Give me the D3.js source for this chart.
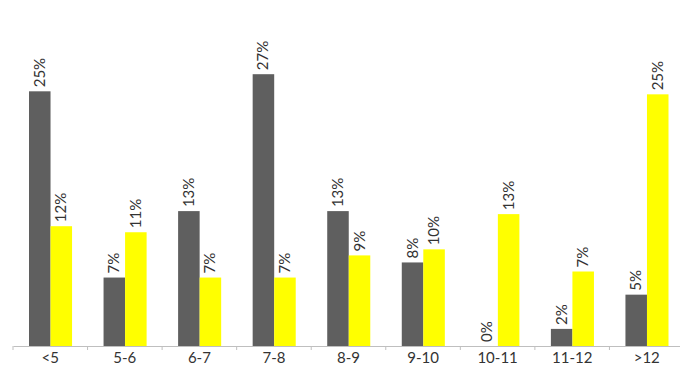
<!DOCTYPE html>
<html>
<head>
<meta charset="utf-8">
<script src="https://cdn.jsdelivr.net/npm/d3@7"></script>
<style>
  body { margin: 0; background: #fff; }
  svg text { font-family: Lato, "DejaVu Sans", sans-serif; fill: #333; }
</style>
</head>
<body>
<div id="chart"></div>
<script>
'use strict';

const categories = ['<5', '5-6', '6-7', '7-8', '8-9', '9-10', '10-11', '11-12', '>12'];
const series_dark = [25.3, 6.8, 13.4, 27.0, 13.4, 8.3, 0, 1.7, 5.1];
const series_yellow = [11.9, 11.3, 6.8, 6.8, 9.0, 9.6, 13.1, 7.4, 25.0];
const series_colors = ['#5f5f5f', '#ffff00'];

function grouped_bars(id) {
    let dim = {
        width: 680,
        height: 367,
        left: 13,
        right: -4,
        base: 346,
        top: 44
    };

    let svg = d3.select(id)
        .append('svg')
        .attr('width', dim.width)
        .attr('height', dim.height);

    const xScale = d3.scaleBand()
        .range([dim.left, dim.width - dim.right])
        .domain(categories)
        .paddingInner(0)
        .paddingOuter(0);

    const inner = d3.scaleBand()
        .domain([0, 1])
        .range([16, xScale.bandwidth() - 15.5]);

    const yScale = d3.scaleLinear()
        .domain([0, 30])
        .range([dim.base, dim.top]);

    let axis = svg.append('g')
        .attr('transform', `translate(0, ${dim.base})`)
        .call(d3.axisBottom(xScale).tickSize(4).tickSizeOuter(0));
    axis.select('.domain').attr('stroke', '#bfbfbf');
    axis.selectAll('.tick line')
        .attr('stroke', '#bfbfbf')
        .attr('transform', `translate(${-xScale.bandwidth() / 2}, 0)`);
    axis.selectAll('.tick text')
        .attr('y', 6)
        .attr('dy', '0.71em')
        .style('font-size', '15px')
        .style('fill', '#333');

    let rows = categories.map((c, i) => [series_dark[i], series_yellow[i]]);

    let groups = svg.selectAll('.grp')
        .data(rows)
        .enter()
        .append('g')
        .attr('class', 'grp')
        .attr('transform', (d, i) => `translate(${xScale(categories[i])}, 0)`);

    groups.selectAll('rect')
        .data((d) => d)
        .enter()
        .append('rect')
        .attr('x', (d, j) => inner(j))
        .attr('y', (d) => yScale(d))
        .attr('width', inner.bandwidth())
        .attr('height', (d) => dim.base - yScale(d))
        .attr('fill', (d, j) => series_colors[j]);

    groups.selectAll('text')
        .data((d) => d)
        .enter()
        .append('text')
        .text((d) => Math.round(d) + '%')
        .attr('transform', (d, j) => `translate(${inner(j) + inner.bandwidth() / 2 + 5}, ${yScale(d) - 4}) rotate(-90)`)
        .attr('text-anchor', 'start')
        .style('font-size', '15px');
}

grouped_bars('#chart');
</script>
</body>
</html>
